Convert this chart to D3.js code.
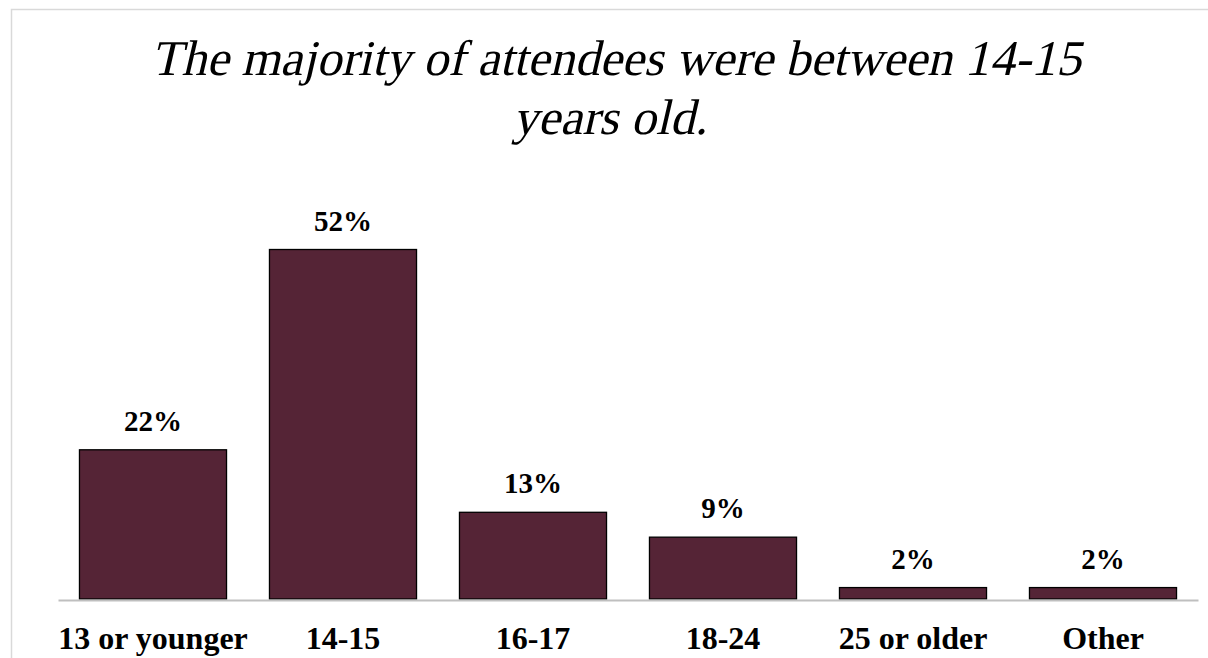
<!DOCTYPE html>
<html>
<head>
<meta charset="utf-8">
<script src="https://cdn.jsdelivr.net/npm/d3@7"></script>
<style>
html,body{margin:0;padding:0;background:#fff;}
svg{display:block;}
</style>
</head>
<body>
<svg id="chart" width="1208" height="658"></svg>
<script>
const categories = ["13 or younger", "14-15", "16-17", "18-24", "25 or older", "Other"];
const values = [22.2, 52.0, 12.9, 9.2, 1.7, 1.7];
const valueLabels = ["22%", "52%", "13%", "9%", "2%", "2%"];
const titleLines = ["The majority of attendees were between 14-15", "years old."];

const svg = d3.select("#chart");
const W = 1208, H = 658;

svg.append("rect")
  .attr("x", 11.5).attr("y", 9.5)
  .attr("width", W + 20).attr("height", H + 20)
  .attr("fill", "#fff").attr("stroke", "#d9d9d9").attr("stroke-width", 1.5);

const baseY = 599;
const x = d3.scaleBand()
  .domain(categories)
  .range([58, 1198])
  .paddingInner(0.226)
  .paddingOuter(0.113);

const y = d3.scaleLinear().domain([0, 52]).range([baseY, 249.5]);

svg.append("g").selectAll("rect")
  .data(categories)
  .join("rect")
  .attr("x", d => x(d))
  .attr("y", (d, i) => y(values[i]))
  .attr("width", x.bandwidth())
  .attr("height", (d, i) => baseY - y(values[i]))
  .attr("fill", "#552436")
  .attr("stroke", "#000")
  .attr("stroke-width", 1.3);

const axis = d3.axisBottom(x).tickSize(0).tickPadding(0);
const gAxis = svg.append("g").attr("transform", `translate(0,${baseY + 1})`).call(axis);
gAxis.select(".domain").attr("stroke", "#bfbfbf").attr("stroke-width", 2.2);
gAxis.selectAll(".tick text")
  .attr("dy", null)
  .attr("y", 49)
  .attr("font-family", "'Liberation Serif', serif")
  .attr("font-weight", "bold")
  .attr("font-size", 32)
  .attr("fill", "#000");

svg.append("g").selectAll("text")
  .data(categories)
  .join("text")
  .attr("x", d => x(d) + x.bandwidth() / 2)
  .attr("y", (d, i) => y(values[i]) - 19)
  .attr("text-anchor", "middle")
  .attr("font-family", "'Liberation Serif', serif")
  .attr("font-weight", "bold")
  .attr("font-size", 29)
  .attr("fill", "#000")
  .text((d, i) => valueLabels[i]);

// title (oblique serif)
const tg = svg.append("g").selectAll("g")
  .data(titleLines)
  .join("g")
  .attr("transform", (d, i) => `translate(${i === 0 ? 616 : 610},${75 + i * 59}) skewX(-13)`);
tg.append("text")
  .attr("text-anchor", "middle")
  .attr("font-family", "'Liberation Serif', serif")
  .attr("font-style", "normal")
  .attr("font-size", 50)
  .attr("fill", "#000")
  .text(d => d);
</script>
</body>
</html>
